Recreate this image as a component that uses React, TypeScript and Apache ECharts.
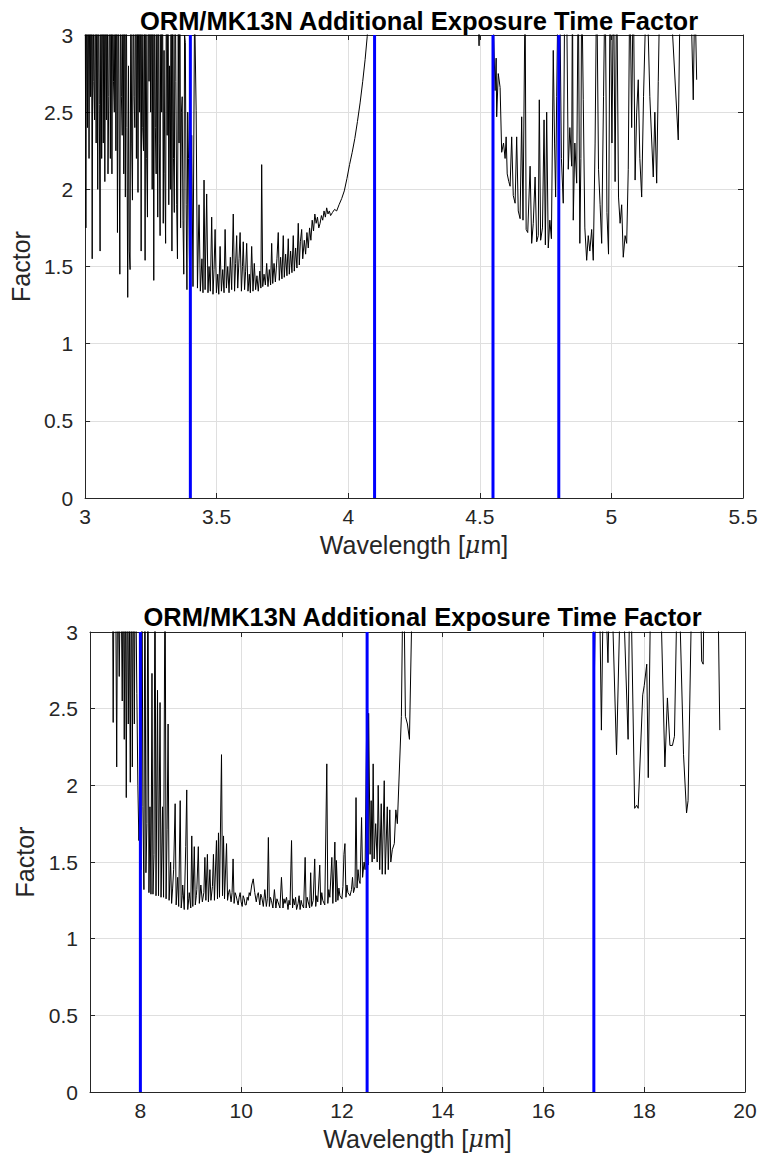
import React, { useEffect, useRef } from "react";
import * as echarts from "echarts";

// ---------- texts ----------
const titleText = "ORM/MK13N Additional Exposure Time Factor";
const xAxisName = "Wavelength [{mu|μ}m]";
const yAxisName = "Factor";

// ---------- axis ranges / ticks ----------
const topXRange = { min: 3, max: 5.5, interval: 0.5 };
const bottomXRange = { min: 7, max: 20 };
const bottomXTicks = [8, 10, 12, 14, 16, 18, 20];
const yRange = { min: 0, max: 3, interval: 0.5 };

// ---------- band edge markers (blue) ----------
const topBandEdges = [3.4, 4.1, 4.55, 4.8];
const bottomBandEdges = [8, 12.5, 17];

// ---------- spectrum, top panel (wavelength µm, factor) ----------
const topSpectrumA: [number, number][] = [
  [3.0, 3.6], [3.003, 1.75], [3.006, 3.6], [3.009, 2.4], [3.012, 3.6], [3.015, 2.2],
  [3.018, 3.6], [3.021, 2.6], [3.024, 3.6], [3.027, 1.55], [3.03, 3.6], [3.033, 2.7],
  [3.036, 2.45], [3.039, 3.6], [3.042, 2.3], [3.045, 3.6], [3.048, 2.0], [3.051, 3.6],
  [3.054, 2.55], [3.057, 1.6], [3.06, 3.6], [3.063, 2.2], [3.066, 3.6], [3.069, 2.3],
  [3.072, 3.6], [3.075, 2.05], [3.078, 3.6], [3.081, 2.45], [3.084, 3.6], [3.087, 2.1],
  [3.09, 2.6], [3.093, 3.6], [3.096, 2.2], [3.099, 3.6], [3.102, 2.1], [3.105, 3.6],
  [3.108, 2.7], [3.111, 2.5], [3.114, 3.6], [3.117, 2.25], [3.12, 3.6], [3.123, 1.72],
  [3.126, 3.6], [3.129, 2.5], [3.132, 1.45], [3.135, 3.6], [3.138, 2.6], [3.141, 2.35],
  [3.144, 3.6], [3.147, 2.1], [3.15, 3.6], [3.153, 1.95], [3.156, 3.6], [3.159, 2.4],
  [3.162, 1.3], [3.165, 2.8], [3.168, 1.6], [3.171, 1.48], [3.174, 3.6], [3.177, 2.3],
  [3.18, 1.93], [3.183, 3.6], [3.186, 2.6], [3.189, 2.4], [3.192, 3.6], [3.195, 2.2],
  [3.198, 3.6], [3.201, 1.98], [3.204, 3.6], [3.207, 2.5], [3.21, 3.6], [3.213, 1.6],
  [3.216, 3.6], [3.219, 2.4], [3.222, 2.25], [3.225, 3.6], [3.228, 1.54], [3.231, 3.6],
  [3.234, 2.2], [3.237, 1.82], [3.24, 3.6], [3.243, 2.7], [3.246, 3.6], [3.249, 2.5],
  [3.252, 3.6], [3.255, 2.0], [3.258, 3.6], [3.261, 1.41], [3.264, 3.6], [3.267, 2.4],
  [3.27, 2.1], [3.273, 3.6], [3.276, 1.82], [3.279, 3.6], [3.282, 2.3], [3.285, 1.7],
  [3.288, 3.6], [3.291, 2.5], [3.294, 3.6], [3.297, 1.78], [3.3, 2.9], [3.303, 2.1],
  [3.306, 1.65], [3.309, 3.6], [3.312, 2.35], [3.315, 3.6], [3.318, 1.9], [3.321, 2.8],
  [3.324, 2.0], [3.327, 3.6], [3.33, 1.6], [3.333, 3.6], [3.336, 2.2], [3.339, 1.85],
  [3.342, 3.6], [3.345, 2.7], [3.348, 1.9], [3.351, 1.55], [3.354, 3.1], [3.357, 2.3],
  [3.36, 3.6], [3.363, 1.75], [3.366, 2.5], [3.369, 2.6], [3.372, 1.8], [3.375, 1.45],
  [3.378, 3.0], [3.381, 2.95], [3.384, 1.9], [3.387, 1.35], [3.39, 2.5], [3.393, 2.2],
  [3.396, 1.6], [3.398, 1.38],
];

const topSpectrumB: [number, number][] = [
  [3.4, 1.4], [3.405, 2.35], [3.41, 1.37], [3.416, 3.2], [3.422, 2.51], [3.427, 1.36],
  [3.433, 1.9], [3.438, 1.34], [3.444, 1.55], [3.448, 1.33], [3.452, 2.06], [3.456, 1.35],
  [3.462, 1.97], [3.467, 1.33], [3.471, 1.5], [3.476, 1.34], [3.481, 1.82], [3.486, 1.32],
  [3.49, 1.48], [3.494, 1.74], [3.499, 1.33], [3.504, 1.45], [3.508, 1.32], [3.513, 1.63],
  [3.518, 1.34], [3.523, 1.48], [3.528, 1.33], [3.532, 1.74], [3.537, 1.36], [3.542, 1.5],
  [3.547, 1.33], [3.552, 1.56], [3.557, 1.35], [3.563, 1.84], [3.568, 1.34], [3.572, 1.52],
  [3.576, 1.7], [3.58, 1.36], [3.585, 1.55], [3.589, 1.72], [3.594, 1.34], [3.598, 1.5],
  [3.601, 1.66], [3.606, 1.35], [3.61, 1.47], [3.614, 1.65], [3.619, 1.34], [3.624, 1.45],
  [3.628, 1.33], [3.633, 1.63], [3.638, 1.34], [3.643, 1.52], [3.648, 1.35], [3.653, 1.44],
  [3.658, 1.34], [3.664, 1.47], [3.668, 1.36], [3.671, 2.16], [3.675, 1.37], [3.68, 1.45],
  [3.685, 1.38], [3.69, 1.52], [3.695, 1.37], [3.7, 1.48], [3.705, 1.38], [3.709, 1.65],
  [3.713, 1.39], [3.718, 1.52], [3.723, 1.4], [3.729, 1.55], [3.734, 1.72], [3.738, 1.41],
  [3.743, 1.56], [3.748, 1.42], [3.753, 1.7], [3.757, 1.43], [3.762, 1.58], [3.767, 1.44],
  [3.772, 1.68], [3.776, 1.45], [3.781, 1.6], [3.786, 1.46], [3.791, 1.7], [3.795, 1.47],
  [3.8, 1.62], [3.805, 1.49], [3.81, 1.78], [3.814, 1.51], [3.818, 1.66], [3.823, 1.74],
  [3.827, 1.55], [3.833, 1.67], [3.838, 1.58], [3.843, 1.72], [3.848, 1.62], [3.853, 1.75],
  [3.858, 1.67], [3.863, 1.8], [3.868, 1.73], [3.873, 1.84], [3.878, 1.78], [3.883, 1.82],
  [3.888, 1.75], [3.893, 1.78], [3.898, 1.83], [3.903, 1.8], [3.908, 1.86], [3.913, 1.82],
  [3.918, 1.88], [3.923, 1.84], [3.928, 1.86], [3.933, 1.83], [3.94, 1.85], [3.948, 1.87],
  [3.956, 1.86], [3.965, 1.9], [3.975, 1.94], [3.985, 1.99], [3.995, 2.07], [4.005, 2.16],
  [4.015, 2.24], [4.025, 2.33], [4.035, 2.44], [4.045, 2.56], [4.055, 2.7], [4.064, 2.84],
  [4.072, 2.99], [4.085, 3.3], [4.3, 4.0], [4.49, 3.3], [4.497, 2.93], [4.503, 3.3],
];

const topSpectrumC: [number, number][] = [
  [4.545, 3.5], [4.558, 2.64], [4.562, 2.85], [4.564, 2.47], [4.57, 2.75], [4.577, 2.66],
  [4.583, 2.24], [4.59, 2.3], [4.596, 2.2], [4.6, 2.34], [4.604, 2.1], [4.61, 2.05],
  [4.615, 2.02], [4.621, 2.34], [4.627, 1.96], [4.634, 1.91], [4.64, 2.34], [4.646, 1.86],
  [4.653, 1.81], [4.659, 2.47], [4.664, 1.8], [4.672, 3.3], [4.676, 1.74], [4.682, 1.72],
  [4.691, 2.15], [4.697, 1.65], [4.703, 1.78], [4.71, 2.08], [4.716, 1.66], [4.722, 1.7],
  [4.726, 2.58], [4.731, 1.67], [4.738, 1.75], [4.744, 2.45], [4.749, 1.64], [4.754, 2.5],
  [4.76, 1.62], [4.766, 1.8], [4.772, 1.68], [4.779, 2.9], [4.784, 2.3], [4.788, 1.95],
  [4.792, 2.6], [4.797, 3.3], [4.803, 3.4], [4.81, 2.2], [4.817, 1.91], [4.823, 3.4],
  [4.83, 3.2], [4.836, 2.13], [4.842, 2.4], [4.849, 2.15], [4.852, 3.4], [4.855, 1.8],
  [4.861, 2.3], [4.868, 2.04], [4.874, 3.4], [4.88, 1.65], [4.884, 2.2], [4.887, 3.4],
  [4.893, 2.58], [4.899, 1.75], [4.906, 1.54], [4.912, 1.7], [4.918, 1.6], [4.925, 1.74],
  [4.931, 1.54], [4.938, 2.3], [4.944, 3.4], [4.951, 2.13], [4.957, 1.9], [4.963, 1.65],
  [4.97, 2.6], [4.976, 3.4], [4.983, 1.85], [4.989, 1.58], [4.995, 3.4], [5.002, 2.3],
  [5.008, 3.4], [5.014, 2.05], [5.02, 3.4], [5.027, 1.95], [5.033, 1.78], [5.039, 1.9],
  [5.045, 1.56], [5.052, 1.7], [5.058, 1.65], [5.064, 2.13], [5.07, 3.4], [5.077, 2.4],
  [5.083, 3.4], [5.09, 2.06], [5.096, 2.5], [5.102, 2.71], [5.108, 2.2], [5.115, 1.95],
  [5.122, 2.6], [5.134, 3.4], [5.146, 2.6], [5.159, 2.08], [5.165, 2.5], [5.172, 2.04],
  [5.178, 2.7], [5.185, 3.4], [5.22, 3.4], [5.254, 2.32], [5.262, 3.4], [5.3, 3.4],
  [5.311, 2.58], [5.317, 3.3], [5.324, 2.71],
];

// ---------- spectrum, bottom panel ----------
const bottomSpectrum: [number, number][] = [
  [7.0, 4.0], [7.44, 3.8], [7.46, 2.41], [7.48, 3.6], [7.51, 3.3], [7.53, 2.12],
  [7.55, 3.6], [7.58, 2.71], [7.61, 3.6], [7.64, 2.55], [7.66, 3.6], [7.68, 2.3],
  [7.7, 3.6], [7.72, 1.92], [7.74, 3.6], [7.76, 2.4], [7.78, 3.2], [7.8, 2.02],
  [7.82, 3.6], [7.84, 2.12], [7.86, 3.6], [7.88, 2.4], [7.9, 3.6], [7.93, 2.6],
  [7.95, 2.0], [7.97, 1.64], [7.99, 1.85], [8.01, 1.45], [8.03, 3.6], [8.05, 1.86],
  [8.07, 1.32], [8.09, 3.6], [8.11, 1.43], [8.13, 1.75], [8.15, 3.6], [8.17, 1.3],
  [8.19, 1.86], [8.21, 1.29], [8.23, 2.73], [8.25, 1.29], [8.27, 1.55], [8.29, 3.6],
  [8.31, 1.28], [8.34, 2.62], [8.36, 1.28], [8.39, 2.54], [8.41, 1.27], [8.44, 1.86],
  [8.46, 1.27], [8.49, 3.6], [8.51, 1.26], [8.53, 1.71], [8.55, 2.4], [8.57, 1.25],
  [8.6, 1.5], [8.62, 1.23], [8.64, 1.33], [8.66, 1.45], [8.69, 1.88], [8.71, 1.22],
  [8.74, 1.4], [8.76, 1.21], [8.79, 1.9], [8.81, 1.2], [8.83, 1.28], [8.84, 1.35],
  [8.87, 1.19], [8.9, 1.6], [8.92, 1.97], [8.94, 1.19], [8.96, 1.26], [8.97, 1.3],
  [9.0, 1.2], [9.02, 1.67], [9.04, 1.21], [9.07, 1.6], [9.09, 1.22], [9.11, 1.28],
  [9.12, 1.32], [9.15, 1.6], [9.17, 1.23], [9.2, 1.35], [9.23, 1.24], [9.26, 1.3],
  [9.28, 1.53], [9.3, 1.25], [9.33, 1.55], [9.35, 1.24], [9.38, 1.45], [9.4, 1.25],
  [9.43, 1.34], [9.45, 1.55], [9.47, 1.25], [9.51, 1.64], [9.53, 1.26], [9.55, 1.69],
  [9.57, 1.27], [9.61, 2.2], [9.63, 1.28], [9.65, 1.67], [9.67, 1.26], [9.71, 1.62],
  [9.73, 1.25], [9.75, 1.3], [9.77, 1.32], [9.8, 1.24], [9.82, 1.3], [9.84, 1.52],
  [9.86, 1.23], [9.88, 1.3], [9.9, 1.28], [9.92, 1.25], [9.94, 1.22], [9.96, 1.27],
  [9.98, 1.3], [10.0, 1.24], [10.02, 1.21], [10.04, 1.28], [10.06, 1.26], [10.08, 1.22],
  [10.1, 1.22], [10.12, 1.27], [10.14, 1.25], [10.16, 1.3], [10.18, 1.28], [10.21, 1.35],
  [10.24, 1.39], [10.27, 1.3], [10.3, 1.24], [10.32, 1.28], [10.34, 1.3], [10.37, 1.22],
  [10.39, 1.29], [10.41, 1.27], [10.44, 1.21], [10.47, 1.32], [10.5, 1.21], [10.52, 1.26],
  [10.54, 1.66], [10.56, 1.21], [10.58, 1.27], [10.6, 1.25], [10.63, 1.2], [10.66, 1.32],
  [10.69, 1.2], [10.71, 1.26], [10.73, 1.24], [10.77, 1.2], [10.8, 1.4], [10.83, 1.2],
  [10.85, 1.26], [10.87, 1.23], [10.9, 1.27], [10.93, 1.19], [10.95, 1.25], [10.97, 1.22],
  [11.0, 1.64], [11.02, 1.2], [11.04, 1.26], [11.06, 1.22], [11.08, 1.27], [11.1, 1.19],
  [11.13, 1.23], [11.15, 1.28], [11.17, 1.19], [11.19, 1.25], [11.21, 1.22], [11.24, 1.2],
  [11.27, 1.53], [11.29, 1.2], [11.31, 1.27], [11.33, 1.24], [11.36, 1.2], [11.38, 1.43],
  [11.4, 1.21], [11.43, 1.25], [11.46, 1.52], [11.48, 1.21], [11.5, 1.28], [11.52, 1.24],
  [11.56, 1.48], [11.58, 1.22], [11.6, 1.3], [11.62, 1.25], [11.66, 1.22], [11.7, 2.14],
  [11.72, 1.23], [11.74, 1.32], [11.76, 1.27], [11.8, 1.53], [11.82, 1.23], [11.86, 1.63],
  [11.88, 1.24], [11.89, 1.51], [11.92, 1.25], [11.94, 1.33], [11.96, 1.28], [12.0, 1.26],
  [12.02, 1.34], [12.04, 1.55], [12.06, 1.62], [12.08, 1.27], [12.1, 1.35], [12.12, 1.3],
  [12.16, 1.28], [12.19, 1.32], [12.21, 1.4], [12.23, 1.3], [12.26, 1.34], [12.28, 1.92],
  [12.3, 1.33], [12.32, 1.45], [12.34, 1.38], [12.36, 1.36], [12.39, 1.79], [12.41, 1.4],
  [12.44, 1.5], [12.46, 1.45], [12.48, 2.1], [12.5, 2.6], [12.52, 1.48], [12.53, 2.47],
  [12.56, 1.55], [12.58, 1.9], [12.6, 1.5], [12.62, 2.14], [12.64, 1.52], [12.67, 1.75],
  [12.7, 1.5], [12.72, 2.0], [12.75, 1.45], [12.78, 1.88], [12.8, 1.42], [12.84, 2.03],
  [12.86, 1.42], [12.9, 1.86], [12.92, 1.45], [12.95, 1.84], [12.97, 1.5], [13.0, 1.58],
  [13.04, 1.62], [13.07, 1.84], [13.1, 1.75], [13.14, 2.1], [13.18, 2.45], [13.22, 3.6],
  [13.26, 2.45], [13.3, 2.4], [13.34, 2.3], [13.38, 3.0], [13.42, 3.8], [16.98, 3.8],
  [17.0, 2.47], [17.05, 3.6], [17.1, 3.6], [17.15, 2.36], [17.2, 3.6], [17.28, 2.8],
  [17.33, 3.6], [17.45, 2.2], [17.55, 3.6], [17.68, 2.3], [17.72, 3.6], [17.81, 1.85],
  [17.85, 1.87], [17.88, 1.85], [17.97, 2.59], [18.0, 2.65], [18.05, 2.79], [18.08, 2.05],
  [18.14, 3.6], [18.3, 3.6], [18.41, 2.12], [18.46, 2.57], [18.51, 2.26], [18.56, 2.26],
  [18.6, 2.32], [18.67, 3.6], [18.78, 2.2], [18.84, 1.82], [18.87, 1.9], [18.96, 3.6],
  [19.1, 3.6], [19.14, 2.81], [19.17, 2.79], [19.2, 3.6], [19.45, 3.6], [19.5, 2.36],
];

// ---------- styling ----------
const FONT = "'Liberation Sans', Arial, Helvetica, sans-serif";
const AXIS_COLOR = "#262626";
const GRID_COLOR = "#dfdfdf";
const TICK_FONT = 21;
const NAME_FONT = 25;
const TITLE_FONT = 25.5;

const grids = [
  { left: 85, top: 35, width: 658, height: 463 },
  { left: 90, top: 632, width: 655, height: 460 },
];

const lineStyleAxis = { color: AXIS_COLOR, width: 1 };

function xAxesFor(gridIndex: number, min: number, max: number, interval?: number, ticks?: number[]) {
  const scale: any = { type: "value", gridIndex, min, max };
  if (interval !== undefined) scale.interval = interval;
  const tickOpt: any = { show: true, inside: true, length: 5, lineStyle: { color: AXIS_COLOR } };
  if (ticks) tickOpt.customValues = ticks;
  const labelOpt: any = {
    color: AXIS_COLOR,
    fontSize: TICK_FONT,
    fontFamily: FONT,
    margin: 8,
    showMinLabel: true,
    showMaxLabel: true,
  };
  if (ticks) labelOpt.customValues = ticks;
  return [
    {
      ...scale,
      position: "bottom",
      axisLine: { show: true, onZero: false, lineStyle: lineStyleAxis },
      axisTick: tickOpt,
      axisLabel: labelOpt,
      splitLine: { show: true, lineStyle: { color: GRID_COLOR, width: 1 } },
      name: xAxisName,
      nameLocation: "middle",
      nameGap: 34,
      nameTextStyle: {
        color: AXIS_COLOR,
        fontSize: NAME_FONT,
        fontFamily: FONT,
        rich: {
          mu: { fontStyle: "italic", fontFamily: "'DejaVu Serif', serif", fontSize: NAME_FONT - 1, color: AXIS_COLOR },
        },
      },
    },
    {
      ...scale,
      position: "top",
      axisLine: { show: true, onZero: false, lineStyle: lineStyleAxis },
      axisTick: tickOpt,
      axisLabel: { show: false },
      splitLine: { show: false },
    },
  ];
}

function yAxesFor(gridIndex: number) {
  const scale: any = { type: "value", gridIndex, min: yRange.min, max: yRange.max, interval: yRange.interval };
  return [
    {
      ...scale,
      position: "left",
      axisLine: { show: true, onZero: false, lineStyle: lineStyleAxis },
      axisTick: { show: true, inside: true, length: 5, lineStyle: { color: AXIS_COLOR } },
      axisLabel: { color: AXIS_COLOR, fontSize: TICK_FONT, fontFamily: FONT, margin: 12 },
      splitLine: { show: true, lineStyle: { color: GRID_COLOR, width: 1 } },
      name: yAxisName,
      nameLocation: "middle",
      nameRotate: 90,
      nameGap: 50,
      nameTextStyle: { color: AXIS_COLOR, fontSize: NAME_FONT, fontFamily: FONT },
    },
    {
      ...scale,
      position: "right",
      axisLine: { show: true, onZero: false, lineStyle: lineStyleAxis },
      axisTick: { show: true, inside: true, length: 5, lineStyle: { color: AXIS_COLOR } },
      axisLabel: { show: false },
      splitLine: { show: false },
    },
  ];
}

function bandSeries(edges: number[], axisIndex: number) {
  return edges.map((x) => ({
    type: "line" as const,
    xAxisIndex: axisIndex,
    yAxisIndex: axisIndex,
    data: [
      [x, yRange.min],
      [x, yRange.max],
    ],
    symbol: "none",
    lineStyle: { color: "#0000ff", width: 3 },
    z: 5,
    silent: true,
  }));
}

export default function App() {
  const ref = useRef<HTMLDivElement>(null);

  useEffect(() => {
    if (!ref.current) return;
    const chart = echarts.init(ref.current, undefined, { renderer: "svg" });

    const topData = [...topSpectrumA, ...topSpectrumB, ...topSpectrumC];
    const titleStyle = { color: "#000", fontSize: TITLE_FONT, fontWeight: "bold", fontFamily: FONT };

    const option = {
      animation: false,
      backgroundColor: "#ffffff",
      title: [
        { text: titleText, left: grids[0].left + grids[0].width / 2, top: 3, textAlign: "center", textStyle: titleStyle },
        { text: titleText, left: grids[1].left + grids[1].width / 2, top: 599, textAlign: "center", textStyle: titleStyle },
      ],
      grid: grids.map((g) => ({ ...g, containLabel: false })),
      xAxis: [
        ...xAxesFor(0, topXRange.min, topXRange.max, topXRange.interval),
        ...xAxesFor(1, bottomXRange.min, bottomXRange.max, undefined, bottomXTicks),
      ],
      yAxis: [...yAxesFor(0), ...yAxesFor(1)],
      series: [
        {
          type: "line",
          xAxisIndex: 0,
          yAxisIndex: 0,
          data: topData,
          symbol: "none",
          clip: true,
          lineStyle: { color: "#000000", width: 1 },
          z: 3,
          silent: true,
        },
        {
          type: "line",
          xAxisIndex: 2,
          yAxisIndex: 2,
          data: bottomSpectrum,
          symbol: "none",
          clip: true,
          lineStyle: { color: "#000000", width: 1 },
          z: 3,
          silent: true,
        },
        ...bandSeries(topBandEdges, 0),
        ...bandSeries(bottomBandEdges, 2),
      ],
    };

    chart.setOption(option as any);
    return () => chart.dispose();
  }, []);

  return (
    <div
      ref={ref}
      style={{ position: "absolute", left: 0, top: 0, width: 761, height: 1165, background: "#fff" }}
    />
  );
}
